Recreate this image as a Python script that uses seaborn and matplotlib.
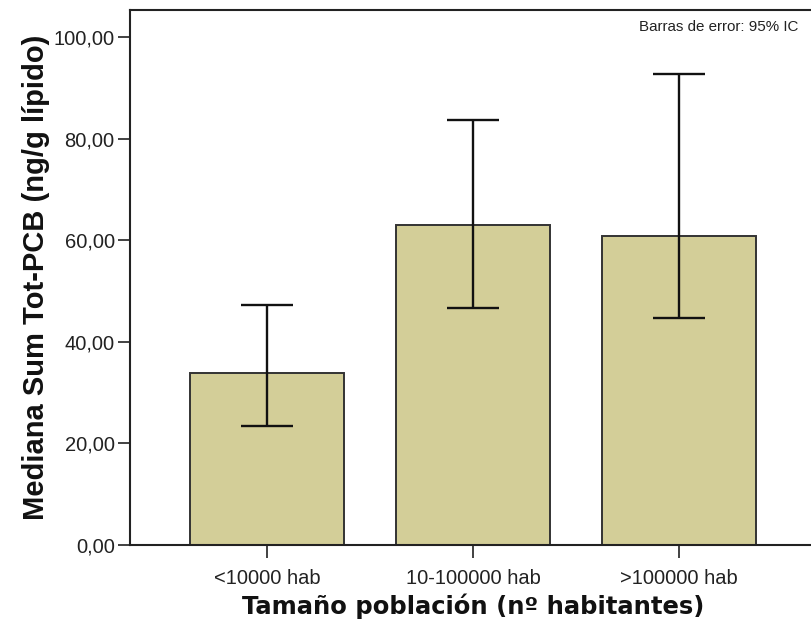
import matplotlib
matplotlib.use("Agg")
import matplotlib.pyplot as plt
import seaborn as sns
import numpy as np
import pandas as pd
from matplotlib.ticker import FuncFormatter

categories = ["<10000 hab", "10-100000 hab", ">100000 hab"]
medians = [33.8, 63.0, 60.8]
ci_low = [23.4, 46.6, 44.7]
ci_high = [47.2, 83.6, 92.8]
yticks = [0, 20, 40, 60, 80, 100]

sns.set_theme(style="white")
plt.rcParams['font.family'] = ['Liberation Sans', 'DejaVu Sans']

df = pd.DataFrame({"cat": categories, "val": medians})

fig = plt.figure(figsize=(8.12, 6.29), dpi=100)
ax = fig.add_axes([130/812, 1-545/629, 686/812, 535/629])

sns.barplot(data=df, x="cat", y="val", order=categories, color="#D3CE98",
            saturation=1, width=0.75, edgecolor="#333333", linewidth=1.4,
            errorbar=None, ax=ax)

xpos = np.arange(len(categories))
yerr = np.array([np.array(medians) - np.array(ci_low),
                 np.array(ci_high) - np.array(medians)])
ax.errorbar(xpos, medians, yerr=yerr, fmt="none", ecolor="#111111",
            elinewidth=1.7, capsize=18.7, capthick=1.7, zorder=5)

ax.set_xlim(-0.665, 2.665)
ax.set_ylim(0, 105.3)
ax.set_yticks(yticks)
ax.yaxis.set_major_formatter(FuncFormatter(lambda v, p: f"{v:.2f}".replace(".", ",")))

for s in ["left", "bottom", "top"]:
    ax.spines[s].set_color("#222222")
    ax.spines[s].set_linewidth(1.5)
ax.spines["right"].set_visible(False)

ax.tick_params(axis="both", which="both", direction="out", length=9, width=1.3,
               color="#333333", labelsize=14.5, labelcolor="#222222", pad=2)
ax.tick_params(axis="x", pad=8)
ax.tick_params(axis="y", left=True)
ax.tick_params(axis="x", bottom=True)

ax.set_xlabel("Tamaño población (nº habitantes)", fontsize=17.5, fontweight="bold",
              family=['DejaVu Sans'], labelpad=4, color="#111111")
ax.set_ylabel("Mediana Sum Tot-PCB (ng/g lípido)", fontsize=21, fontweight="bold",
              color="#111111")
ax.yaxis.set_label_coords(-0.116, 0.5)

fig.text(798/812, 1-27/629, "Barras de error: 95% IC", fontsize=10.9, ha="right",
         va="center", color="#222222")

fig.savefig("out.png", dpi=100)
